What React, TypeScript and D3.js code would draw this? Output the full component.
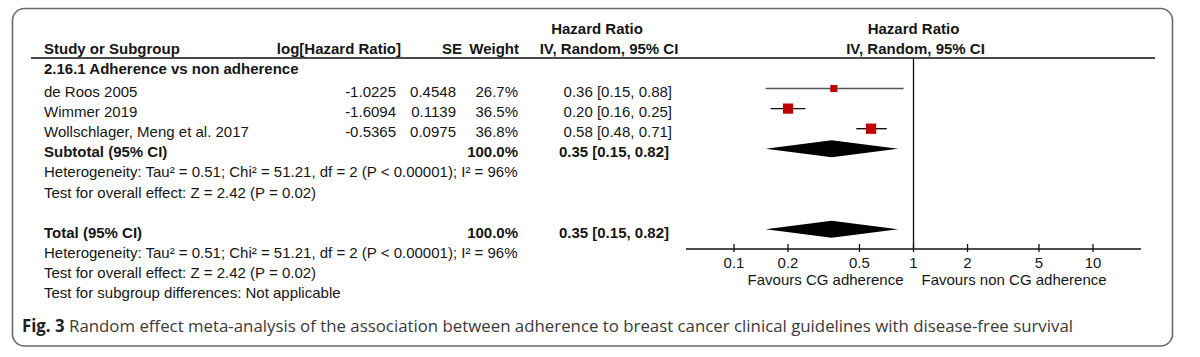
import React from "react";
import * as d3 from "d3";

// ---- data ----
const studyNames = ["de Roos 2005", "Wimmer 2019", "Wollschlager, Meng et al. 2017"];
const logHazard = ["-1.0225", "-1.6094", "-0.5365"];
const seValues = ["0.4548", "0.1139", "0.0975"];
const weights = [26.7, 36.5, 36.8];
const hazardRatios = [0.36, 0.2, 0.58];
const ciLower = [0.15, 0.16, 0.48];
const ciUpper = [0.88, 0.25, 0.71];
const pooled = [0.35, 0.15, 0.82]; // estimate, lower, upper
const axisTicks = [0.1, 0.2, 0.5, 1, 2, 5, 10];
const axisExtent = [0.054, 18.5];
const groupTitle = "2.16.1 Adherence vs non adherence";
const heterogeneityText = "Heterogeneity: Tau\u00b2 = 0.51; Chi\u00b2 = 51.21, df = 2 (P < 0.00001); I\u00b2 = 96%";
const overallText = "Test for overall effect: Z = 2.42 (P = 0.02)";
const subgroupText = "Test for subgroup differences: Not applicable";
const favourLeft = "Favours CG adherence";
const favourRight = "Favours non CG adherence";
const captionBold = "Fig. 3";
const captionText = " Random effect meta-analysis of the association between adherence to breast cancer clinical guidelines with disease-free survival";

const FONT = "'Liberation Sans', Arial, Helvetica, sans-serif";
const INK = "#161616";
const RED = "#c00000";

function fmt2(v: number) {
  return d3.format(".2f")(v);
}
function ciLabel(h: number, l: number, u: number) {
  return `${fmt2(h)} [${fmt2(l)}, ${fmt2(u)}]`;
}

export default function App() {
  const W = 1200;
  const H = 357;
  const x = d3.scaleLog().domain([0.1, 10]).range([734, 1093]);
  const row = d3.scaleLinear().domain([1, 11]).range([97, 298]);
  const sq = d3.scaleLinear().domain([20, 40]).range([5, 11.3]);
  const markOffset = 8.5;
  const headerRuleY = 58;
  const axisY = 249;
  const diamondHalf = 8.5;

  const diamond = (cy: number) => {
    const pts: [number, number][] = [
      [x(pooled[1]), cy],
      [x(pooled[0]), cy - diamondHalf],
      [x(pooled[2]), cy],
      [x(pooled[0]), cy + diamondHalf],
    ];
    return d3.line()(pts)! + "Z";
  };

  const colLogX = 396;
  const colSeX = 456;
  const colWX = 518;
  const colCIX = 672;
  const leftX = 44;

  const txt = { fontFamily: FONT, fontSize: 15, fill: INK } as React.CSSProperties;
  const bold = { ...txt, fontWeight: 700 } as React.CSSProperties;

  return (
    <div style={{ position: "absolute", left: 0, top: 0, background: "#fff" }}>
      <svg width={W} height={H} viewBox={`0 0 ${W} ${H}`} style={{ display: "block", background: "#fff" }}>
        <rect x={12.5} y={8.5} width={1160} height={337.5} rx={12} ry={12} fill="#fff" stroke="#6a6a6a" strokeWidth={1.6} />

        {/* headers */}
        <text x={leftX} y={54} style={bold}>Study or Subgroup</text>
        <text x={401} y={54} textAnchor="end" style={bold}>log[Hazard Ratio]</text>
        <text x={462} y={54} textAnchor="end" style={bold}>SE</text>
        <text x={519} y={54} textAnchor="end" style={bold}>Weight</text>
        <text x={597} y={34} textAnchor="middle" style={bold}>Hazard Ratio</text>
        <text x={609} y={54} textAnchor="middle" style={bold}>IV, Random, 95% CI</text>
        <text x={x(1)} y={34} textAnchor="middle" style={bold}>Hazard Ratio</text>
        <text x={x(1) + 2} y={54} textAnchor="middle" style={bold}>IV, Random, 95% CI</text>
        <line x1={31} x2={1155} y1={headerRuleY} y2={headerRuleY} stroke="#4a4a4a" strokeWidth={2} />

        {/* group */}
        <text x={leftX} y={row(0) - 3} style={bold}>{groupTitle}</text>

        {/* studies */}
        {studyNames.map((name, i) => {
          const by = row(i + 1);
          const cy = by - markOffset;
          const s = sq(weights[i]);
          return (
            <g key={name}>
              <text x={leftX} y={by} style={txt}>{name}</text>
              <text x={colLogX} y={by} textAnchor="end" style={txt}>{logHazard[i]}</text>
              <text x={colSeX} y={by} textAnchor="end" style={txt}>{seValues[i]}</text>
              <text x={colWX} y={by} textAnchor="end" style={txt}>{weights[i].toFixed(1)}%</text>
              <text x={colCIX} y={by} textAnchor="end" style={txt}>{ciLabel(hazardRatios[i], ciLower[i], ciUpper[i])}</text>
              <line x1={x(ciLower[i])} x2={x(ciUpper[i])} y1={cy} y2={cy} stroke={i === 0 ? "#555" : "#111"} strokeWidth={1.4} />
              <rect x={x(hazardRatios[i]) - s / 2} y={cy - s / 2} width={s} height={s} fill={RED} />
            </g>
          );
        })}

        {/* subtotal */}
        <text x={leftX} y={row(4)} style={bold}>Subtotal (95% CI)</text>
        <text x={colWX} y={row(4)} textAnchor="end" style={bold}>100.0%</text>
        <text x={colCIX - 3} y={row(4)} textAnchor="end" style={bold}>{ciLabel(pooled[0], pooled[1], pooled[2])}</text>
        <path d={diamond(row(4) - markOffset)} fill="#000" />
        <text x={leftX} y={row(5)} style={txt}>{heterogeneityText}</text>
        <text x={leftX} y={row(6)} style={txt}>{overallText}</text>

        {/* total */}
        <text x={leftX} y={row(8)} style={bold}>Total (95% CI)</text>
        <text x={colWX} y={row(8)} textAnchor="end" style={bold}>100.0%</text>
        <text x={colCIX - 3} y={row(8)} textAnchor="end" style={bold}>{ciLabel(pooled[0], pooled[1], pooled[2])}</text>
        <path d={diamond(row(8) - markOffset)} fill="#000" />
        <text x={leftX} y={row(9)} style={txt}>{heterogeneityText}</text>
        <text x={leftX} y={row(10)} style={txt}>{overallText}</text>
        <text x={leftX} y={row(11)} style={txt}>{subgroupText}</text>

        {/* null line */}
        <line x1={x(1)} x2={x(1)} y1={headerRuleY} y2={axisY} stroke="#111" strokeWidth={1.3} />

        {/* axis */}
        <line x1={x(axisExtent[0])} x2={x(axisExtent[1])} y1={axisY} y2={axisY} stroke="#111" strokeWidth={1.3} />
        {axisTicks.map((t) => (
          <g key={t}>
            <line x1={x(t)} x2={x(t)} y1={axisY - 5} y2={axisY + 3} stroke="#111" strokeWidth={1.3} />
            <text x={x(t)} y={268} textAnchor="middle" style={txt}>{String(t)}</text>
          </g>
        ))}
        <text x={x(1) - 10} y={285} textAnchor="end" style={txt}>{favourLeft}</text>
        <text x={x(1) + 8} y={285} style={txt}>{favourRight}</text>

        {/* caption */}
        <text x={22} y={332} textLength={1051} lengthAdjust="spacingAndGlyphs"
          style={{ fontFamily: "'Open Sans', 'Noto Sans', sans-serif", fontSize: 17, fill: "#3a3a3a" }}>
          <tspan style={{ fontWeight: 700, fill: "#1f1f1f" }}>{captionBold}</tspan>
          <tspan>{captionText}</tspan>
        </text>
      </svg>
    </div>
  );
}
